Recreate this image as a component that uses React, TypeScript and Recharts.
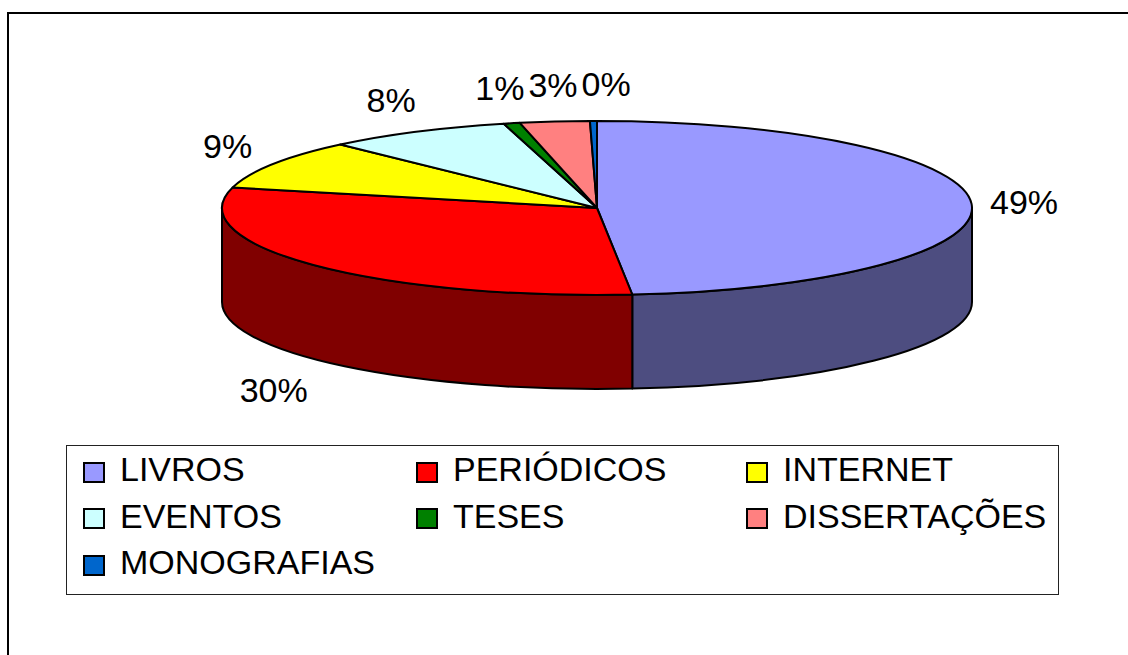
import { Cell, Legend, Pie, PieChart } from "recharts";

const NAMES = [
  "LIVROS",
  "PERIÓDICOS",
  "INTERNET",
  "EVENTOS",
  "TESES",
  "DISSERTAÇÕES",
  "MONOGRAFIAS",
];
const SHARES = [48.5, 30.3, 9.2, 8.0, 0.7, 3.0, 0.3];
const COLORS = ["#9999ff", "#ff0000", "#ffff00", "#ccffff", "#008000", "#ff8080", "#0066cc"];
const SIDE_COLORS = ["#4d4d80", "#800000", "#808000", "#668080", "#004000", "#804040", "#003366"];

const data = NAMES.map((name, i) => ({ name, value: SHARES[i] }));

// the pie is drawn as a tilted disc: vertical radius is a fraction of the horizontal one
const TILT = 0.232;
const DEPTH = 94;
const RAD = Math.PI / 180;
const FONT = "'Liberation Sans', Arial, sans-serif";
const FS = 34;

function renderSlice(props: any) {
  const { cx, cy, outerRadius, startAngle, endAngle, fill, name } = props;
  const rx = outerRadius;
  const ry = outerRadius * TILT;
  const pt = (deg: number, dy = 0) =>
    `${cx + rx * Math.cos(deg * RAD)},${cy - ry * Math.sin(deg * RAD) + dy}`;

  const large = Math.abs(endAngle - startAngle) > 180 ? 1 : 0;
  const top = `M${cx},${cy} L${pt(startAngle)} A${rx},${ry} 0 ${large} 1 ${pt(endAngle)} Z`;

  // only the front half (-180..0) of the rim is visible
  const lo = Math.max(Math.min(startAngle, endAngle), -180);
  const hi = Math.min(Math.max(startAngle, endAngle), 0);
  const idx = NAMES.indexOf(name);
  let side: string | null = null;
  if (hi > lo) {
    side =
      `M${pt(hi)} A${rx},${ry} 0 0 1 ${pt(lo)} L${pt(lo, DEPTH)} ` +
      `A${rx},${ry} 0 0 0 ${pt(hi, DEPTH)} Z`;
  }

  return (
    <g>
      {side && (
        <path d={side} fill={SIDE_COLORS[idx]} stroke="#000" strokeWidth={2} strokeLinejoin="round" />
      )}
      <path d={top} fill={fill} stroke="#000" strokeWidth={2} strokeLinejoin="round" />
    </g>
  );
}

// labels near the top get pushed right when they would overlap the previous one
let placed: { left: number; right: number; y: number }[] = [];

function renderLabel(props: any) {
  const { cx, cy, midAngle, outerRadius, value, index } = props;
  if (index === 0) placed = [];
  const text = `${Math.round(value)}%`;
  const w = ((text.length - 1) * 0.556 + 0.889) * FS;
  const c = Math.cos(midAngle * RAD);
  const s = Math.sin(midAngle * RAD);
  const ky = s < 0 ? 1.55 : 1.42;
  let x = cx + 1.14 * outerRadius * c;
  const y = cy - ky * outerRadius * TILT * s + (s < 0 ? DEPTH : 0);
  const prev = placed[placed.length - 1];
  if (prev && Math.abs(prev.y - y) < FS && x - w / 2 < prev.right + 4 && x > prev.left) {
    x = prev.right + 4 + w / 2;
  }
  placed.push({ left: x - w / 2, right: x + w / 2, y });
  return (
    <text x={x} y={y} textAnchor="middle" dominantBaseline="central" fill="#000"
      style={{ fontFamily: FONT, fontSize: FS }}>
      {text}
    </text>
  );
}

function LegendBox(props: any) {
  const payload = [...(props.payload || [])].sort(
    (a: any, b: any) => NAMES.indexOf(a.value) - NAMES.indexOf(b.value)
  );
  return (
    <div
      style={{
        boxSizing: "border-box",
        width: "100%",
        height: "100%",
        border: "1px solid #222",
        background: "#fff",
        paddingLeft: 16,
        display: "grid",
        gridTemplateColumns: "333px 330px 300px",
        gridAutoRows: 46.5,
        fontFamily: FONT,
        fontSize: FS,
        color: "#000",
      }}
    >
      {payload.map((entry: any) => (
        <div key={entry.value} style={{ display: "flex", alignItems: "center", lineHeight: 1, whiteSpace: "nowrap" }}>
          <span
            style={{
              boxSizing: "border-box",
              width: 22,
              height: 21,
              border: "2px solid #000",
              background: COLORS[NAMES.indexOf(entry.value)],
              marginRight: 15,
              position: "relative",
              top: 3,
              flex: "none",
            }}
          />
          <span>{entry.value}</span>
        </div>
      ))}
    </div>
  );
}

export default function App() {
  return (
    <div style={{ position: "fixed", left: 0, top: 0, width: 1128, height: 655, overflow: "hidden", background: "#fff" }}>
      <div
        style={{
          position: "absolute",
          left: 7,
          top: 12,
          width: 1200,
          height: 700,
          borderTop: "2px solid #000",
          borderLeft: "2px solid #000",
        }}
      />
      <div style={{ position: "absolute", left: 0, top: 0 }}>
        <PieChart width={1128} height={655} margin={{ top: 0, right: 0, bottom: 0, left: 0 }}>
          <Pie
            data={data}
            dataKey="value"
            nameKey="name"
            cx={597}
            cy={208}
            outerRadius={375}
            startAngle={90}
            endAngle={-270}
            stroke="#000"
            label={renderLabel}
            labelLine={false}
            shape={renderSlice}
            isAnimationActive={false}
          >
            {data.map((d, i) => (
              <Cell key={d.name} fill={COLORS[i]} />
            ))}
          </Pie>
          <Legend
            content={<LegendBox />}
            wrapperStyle={{ position: "absolute", left: 66, top: 445, width: 993, height: 150, bottom: "auto" }}
          />
        </PieChart>
      </div>
    </div>
  );
}
